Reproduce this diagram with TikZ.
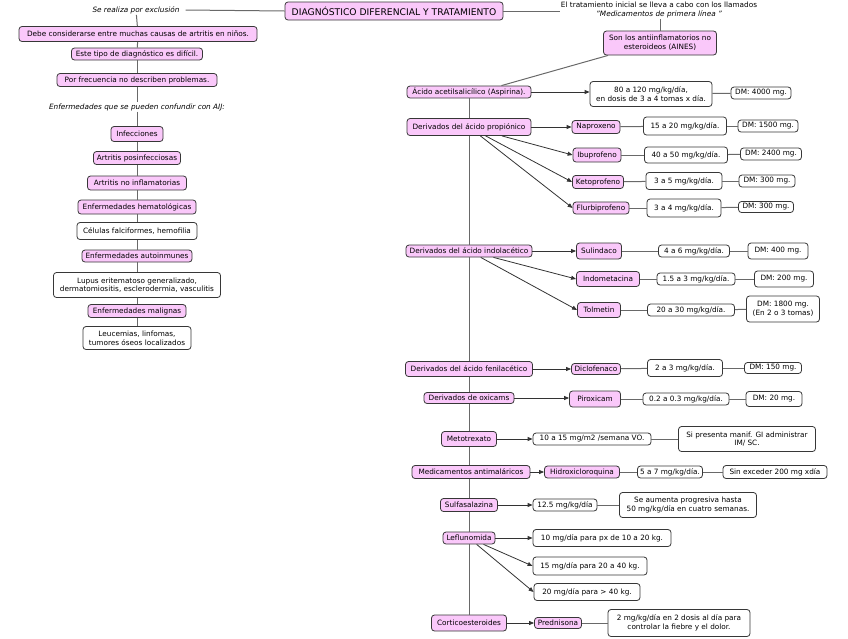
\documentclass[tikz,border=0pt]{standalone}
\usepackage{fontspec}
\setmainfont{DejaVu Sans}
\usetikzlibrary{arrows.meta,calc}
\definecolor{pk}{RGB}{250,200,250}
\definecolor{bd}{RGB}{55,55,55}
\definecolor{ln}{RGB}{105,105,105}
\tikzset{
 box/.style={draw=bd, line width=0.8pt, rounded corners=3pt, align=center, inner sep=1pt, font=\fontsize{7.3}{8.6}\selectfont, text=black},
 pkbox/.style={box, fill=pk},
 wbox/.style={box, fill=white},
 sz/.style 2 args={minimum width=#1pt, minimum height=#2pt},
 conn/.style={draw=ln, line width=1pt},
 arr/.style={draw=black!80, line width=0.8pt, -{Triangle[length=5pt,width=4pt]}},
 lbl/.style={font=\fontsize{7.3}{8.6}\selectfont\itshape, inner sep=1pt, align=center, text=black},
}
\begin{document}
\begin{tikzpicture}[x=1pt, y={(0pt,-1pt)}]
\useasboundingbox (0,0) rectangle (848,638);
% title
\node[pkbox, sz={218}{18}, font=\fontsize{9.2}{10}\selectfont] (title) at (394,11) {DIAGNÓSTICO DIFERENCIAL Y TRATAMIENTO};
% left column
\node[lbl] (excl) at (136,10) {Se realiza por exclusión};
\node[pkbox, sz={238}{15}] (debe) at (138,34) {Debe considerarse entre muchas causas de artritis en niños.};
\node[pkbox, sz={131}{12}] (este) at (137,54) {Este tipo de diagnóstico es difícil.};
\node[pkbox, sz={160}{13}] (porf) at (137,80) {Por frecuencia no describen problemas.};
\node[lbl] (enfc) at (137,107) {Enfermedades que se pueden confundir con AIJ:};
\node[pkbox, sz={52}{15}] (infec) at (137,134) {Infecciones};
\node[pkbox, sz={87}{13}] (posinf) at (137,158) {Artritis posinfecciosas};
\node[pkbox, sz={99}{14}] (noinf) at (137,183) {Artritis no inflamatorias};
\node[pkbox, sz={118}{14}] (hemat) at (137,207) {Enfermedades hematológicas};
\node[wbox, sz={120}{17}] (celul) at (137,231) {Células falciformes, hemofilia};
\node[pkbox, sz={110}{12}] (autoin) at (137,256) {Enfermedades autoinmunes};
\node[wbox, sz={167}{25}] (lupus) at (137,285) {Lupus eritematoso generalizado,\\dermatomiositis, esclerodermia, vasculitis};
\node[pkbox, sz={98}{13}] (malig) at (137,311) {Enfermedades malignas};
\node[wbox, sz={108}{23}] (leuc) at (137,338) {Leucemias, linfomas,\\tumores óseos localizados};
\draw[conn] (excl.east) ++(5,0) coordinate (exclr) -- (title.west);
\draw[conn] (excl) -- (debe);
\foreach \a/\b in {debe/este, este/porf, porf/enfc, enfc/infec, infec/posinf, posinf/noinf, noinf/hemat, hemat/celul, celul/autoin, autoin/lupus, lupus/malig, malig/leuc}
  \draw[conn] (\a) -- (\b);
% right header
\node[lbl, font=\fontsize{7.3}{8.6}\selectfont] (trat) at (659,10) {\upshape El tratamiento inicial se lleva a cabo con los llamados\\\itshape "Medicamentos de primera línea "};
\node[pkbox, sz={113}{24}] (aines) at (660,43) {Son los antiinflamatorios no\\esteroideos (AINES)};
\draw[conn] (title.east) -- (trat.west |- title.east);
\draw[conn] (trat.south -| aines.north) -- (aines.north);
% right column categories
\node[pkbox, sz={124}{12}] (asp) at (469,92) {Ácido acetilsalicílico (Aspirina).};
\node[pkbox, sz={124}{17}] (prop) at (469,127) {Derivados del ácido propiónico};
\node[pkbox, sz={126}{12}] (indol) at (469,251) {Derivados del ácido indolacético};
\node[pkbox, sz={127}{15}] (fenil) at (469,369) {Derivados del ácido fenilacético};
\node[pkbox, sz={90}{11}] (oxi) at (469,398) {Derivados de oxicams};
\node[pkbox, sz={55}{15}] (meto) at (469,439) {Metotrexato};
\node[pkbox, sz={118}{13}] (anti) at (471,472) {Medicamentos antimaláricos};
\node[pkbox, sz={57}{13}] (sulfa) at (469,505) {Sulfasalazina};
\node[pkbox, sz={52}{12}] (leflu) at (469,538) {Leflunomida};
\node[pkbox, sz={75}{16}] (cortico) at (469,623) {Corticoesteroides};
\draw[conn] ($(aines.south west)+(5,0)$) -- ($(asp.north east)+(-30,0)$);
\foreach \a/\b in {asp/prop, prop/indol, indol/fenil, fenil/oxi, oxi/meto, meto/anti, anti/sulfa, sulfa/leflu, leflu/cortico}
  \draw[conn] (\a.south -| asp.south) -- (\b.north -| asp.south);
% aspirina
\node[wbox, sz={122}{25}] (d80) at (651,94) {80 a 120 mg/kg/día,\\en dosis de 3 a 4 tomas x día.};
\node[wbox, sz={60}{12}] (dm4000) at (761,93) {DM: 4000 mg.};
\draw[arr] (asp.east) -- (d80.west |- asp.east);
\draw[conn] (d80) -- (dm4000);
% propionico
\node[pkbox, sz={48}{13}] (napro) at (596,127) {Naproxeno};
\node[wbox, sz={83}{18}] (d1520) at (685,126) {15 a 20 mg/kg/día.};
\node[wbox, sz={60}{12}] (dm1500) at (768,126) {DM: 1500 mg.};
\node[pkbox, sz={48}{14}] (ibu) at (597,155) {Ibuprofeno};
\node[wbox, sz={83}{16}] (d4050) at (686,155) {40 a 50 mg/kg/día.};
\node[wbox, sz={61}{12}] (dm2400) at (771,154) {DM: 2400 mg.};
\node[pkbox, sz={51}{13}] (keto) at (598,182) {Ketoprofeno};
\node[wbox, sz={76}{17}] (d35) at (684,181) {3 a 5 mg/kg/día.};
\node[wbox, sz={56}{12}] (dm300a) at (767,181) {DM: 300 mg.};
\node[pkbox, sz={56}{12}] (flurbi) at (601,208) {Flurbiprofeno};
\node[wbox, sz={74}{18}] (d34) at (684,208) {3 a 4 mg/kg/día.};
\node[wbox, sz={55}{11}] (dm300b) at (766,207) {DM: 300 mg.};
\draw[arr] (prop.east) -- (napro.west);
\draw[arr] (prop) -- (ibu.west);
\draw[arr] (prop) -- (keto.west);
\draw[arr] (prop) -- (flurbi.west);
% indolacetico
\node[pkbox, sz={45}{16}] (sulin) at (599,251) {Sulindaco};
\node[wbox, sz={71}{12}] (d46) at (694,251) {4 a 6 mg/kg/día.};
\node[wbox, sz={60}{16}] (dm400) at (778,251) {DM: 400 mg.};
\node[pkbox, sz={63}{15}] (indome) at (608,279) {Indometacina};
\node[wbox, sz={78}{12}] (d153) at (696,279) {1.5 a 3 mg/kg/día.};
\node[wbox, sz={59}{16}] (dm200) at (784,279) {DM: 200 mg.};
\node[pkbox, sz={43}{15}] (tolm) at (599,310) {Tolmetin};
\node[wbox, sz={87}{12}] (d2030) at (691,310) {20 a 30 mg/kg/día.};
\node[wbox, sz={73}{26}] (dm1800) at (783,309) {DM: 1800 mg.\\(En 2 o 3 tomas)};
\draw[arr] (indol.east) -- (sulin.west);
\draw[arr] (indol) -- (indome.west);
\draw[arr] (indol) -- (tolm.west);
% fenilacetico
\node[pkbox, sz={49}{11}] (diclo) at (596,369) {Diclofenaco};
\node[wbox, sz={75}{17}] (d23) at (685,368) {2 a 3 mg/kg/día.};
\node[wbox, sz={57}{11}] (dm150) at (773,368) {DM: 150 mg.};
\draw[arr] (fenil.east) -- (diclo.west);
% oxicams
\node[pkbox, sz={51}{16}] (piro) at (595,399) {Piroxicam};
\node[wbox, sz={86}{12}] (d0203) at (686,399) {0.2 a 0.3 mg/kg/día.};
\node[wbox, sz={56}{15}] (dm20) at (774,399) {DM: 20 mg.};
\draw[arr] (oxi.east) -- (piro.west |- oxi.east);
% metotrexato
\node[wbox, sz={118}{12}] (d1015) at (592,439) {10 a 15 mg/m2 /semana VO.};
\node[wbox, sz={137}{25}] (simanif) at (747,439) {Si presenta manif. GI administrar\\IM/ SC.};
\draw[arr] (meto.east) -- (d1015.west);
% antimalaricos
\node[pkbox, sz={75}{12}] (hidro) at (582,472) {Hidroxicloroquina};
\node[wbox, sz={65}{12}] (d57) at (670,472) {5 a 7 mg/kg/día.};
\node[wbox, sz={104}{13}] (sinex) at (775,472) {Sin exceder 200 mg xdía};
\draw[arr] (anti.east) -- (hidro.west);
% sulfasalazina
\node[wbox, sz={64}{12}] (d125) at (565,505) {12.5 mg/kg/día};
\node[wbox, sz={137}{25}] (seaum) at (688,505) {Se aumenta progresiva hasta\\50 mg/kg/día en cuatro semanas.};
\draw[arr] (sulfa.east) -- (d125.west);
% leflunomida
\node[wbox, sz={138}{17}] (d10) at (602,538) {10 mg/día para px de 10 a 20 kg.};
\node[wbox, sz={114}{18}] (d15) at (590,566) {15 mg/día para 20 a 40 kg.};
\node[wbox, sz={106}{17}] (d20) at (587,592) {20 mg/día para > 40 kg.};
\draw[arr] (leflu.east) -- (d10.west |- leflu.east);
\draw[arr] (leflu) -- (d15.west);
\draw[arr] (leflu) -- (d20.west);
% corticoesteroides
\node[pkbox, sz={47}{11}] (pred) at (558,623) {Prednisona};
\node[wbox, sz={142}{27}] (d2mg) at (679,623) {2 mg/kg/día en 2 dosis al día para\\controlar la fiebre y el dolor.};
\draw[arr] (cortico.east) -- (pred.west);
% plain dose links
\foreach \a/\b in {napro/d1520, d1520/dm1500, ibu/d4050, d4050/dm2400, keto/d35, d35/dm300a, flurbi/d34, d34/dm300b, sulin/d46, d46/dm400, indome/d153, d153/dm200, tolm/d2030, d2030/dm1800, diclo/d23, d23/dm150, piro/d0203, d0203/dm20, d1015/simanif, hidro/d57, d57/sinex, d125/seaum, pred/d2mg}
  \draw[conn] (\a) -- (\b);
\end{tikzpicture}
\end{document}
